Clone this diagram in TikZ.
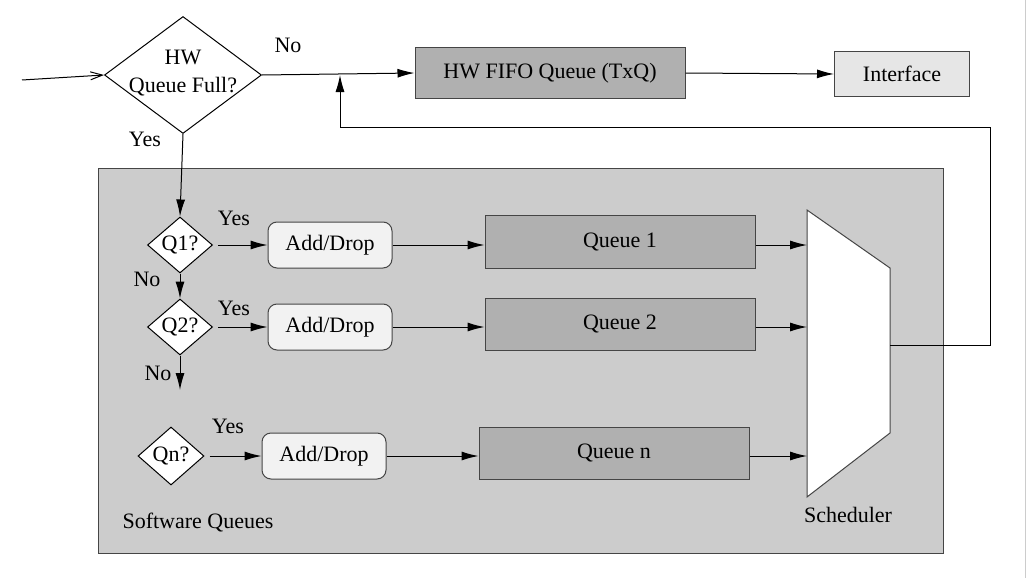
\documentclass[tikz,border=0pt]{standalone}
\usepackage{fontspec}
\setmainfont{Liberation Serif}
\newfontfamily\timesf{Liberation Serif}
\usetikzlibrary{shapes.geometric,arrows.meta}
\definecolor{bigbox}{HTML}{CCCCCC}
\definecolor{darkbox}{HTML}{B0B0B0}
\definecolor{ifbox}{HTML}{E6E6E6}
\definecolor{adbox}{HTML}{F2F2F2}
\definecolor{edge}{HTML}{454545}
\tikzset{
  every node/.style={font=\timesf\fontsize{22}{28}\selectfont},
  conn/.style={line width=1pt, draw=black},
  arr/.style={conn, -{Latex[length=17pt,width=9pt]}},
  qbox/.style={draw=edge, line width=1pt, fill=darkbox},
  adbox/.style={draw=edge, line width=1pt, fill=adbox, rounded corners=9pt},
  dia/.style={diamond, draw=black, line width=1pt, fill=white, inner sep=0pt},
  txt/.style={inner sep=0pt}
}
\begin{document}
\begin{tikzpicture}[x=1pt,y=-1pt]
\useasboundingbox (0,0) rectangle (1027,578);
\fill[white] (0,0) rectangle (1027,578);
\draw[gray!40, line width=1pt] (1025,0) -- (1025,578);
% big software queues box
\draw[draw=edge, line width=1pt, fill=bigbox] (98,168) rectangle (943,553);
% top row
\node[dia, minimum width=157pt, minimum height=117pt] (hw) at (183,75) {};
\node[align=center, txt] (hwt) at (183,73) {HW\\Queue Full?};
\coordinate (in) at (22,80);
\draw[conn, -{Straight Barb[length=12pt,width=8pt]}] (in) -- (hw.west);
\node[qbox, minimum width=270pt, minimum height=50pt] (fifo) at (550,73) {HW FIFO Queue (TxQ)};
\node[draw=edge, line width=1pt, fill=ifbox, minimum width=135pt, minimum height=45pt] (iface) at (902,74) {Interface};
\draw[arr] (hw.east) -- (fifo.west);
\draw[arr] (fifo.east) -- (iface.west);
\node[txt] (no0) at (288,45) {No};
\node[txt] (yes0) at (145,139) {Yes};
% decision diamonds
\node[dia, minimum width=65pt, minimum height=56pt] (q1) at (180,245) {};
\node[txt] (q1t) at (180,245) {Q1?};
\node[dia, minimum width=65pt, minimum height=56pt] (q2) at (180,327) {};
\node[txt] (q2t) at (180,327) {Q2?};
\node[dia, minimum width=66pt, minimum height=58pt] (qn) at (171,456) {};
\node[txt] (qnt) at (171,456) {Qn?};
\draw[arr] (hw.south) -- (q1.north);
\draw[arr] (q1.south) -- (q2.north);
\coordinate (q2down) at (180,390);
\draw[arr] (q2.south) -- (q2down);
\node[txt] (yes1) at (234,218) {Yes};
\node[txt] (no1) at (147,279) {No};
\node[txt] (yes2) at (234,308) {Yes};
\node[txt] (no2) at (158,373) {No};
\node[txt] (yesn) at (228,426) {Yes};
% add/drop boxes
\node[adbox, minimum width=124pt, minimum height=46pt] (ad1) at (330,245) {Add/Drop};
\node[adbox, minimum width=124pt, minimum height=46pt] (ad2) at (330,327) {Add/Drop};
\node[adbox, minimum width=124pt, minimum height=46pt] (adn) at (324,456) {Add/Drop};
\draw[arr] ([xshift=5pt]q1.east) -- (ad1.west);
\draw[arr] ([xshift=5pt]q2.east) -- (ad2.west);
\draw[arr] ([xshift=5pt]qn.east) -- (adn.west);
% queues
\node[qbox, minimum width=270pt, minimum height=53pt] (qu1) at (620,242) {\raisebox{4pt}{Queue 1}};
\node[qbox, minimum width=270pt, minimum height=52pt] (qu2) at (620,324) {\raisebox{4pt}{Queue 2}};
\node[qbox, minimum width=270pt, minimum height=52pt] (qun) at (614,453) {\raisebox{4pt}{Queue n}};
\draw[arr] (ad1.east) -- (ad1.east -| qu1.west);
\draw[arr] (ad2.east) -- (ad2.east -| qu2.west);
\draw[arr] (adn.east) -- (adn.east -| qun.west);
% scheduler
\coordinate (s1) at (807,210);
\coordinate (s2) at (890,268);
\coordinate (s3) at (890,433);
\coordinate (s4) at (807,497);
\draw[draw=edge, line width=1pt, fill=white] (s1) -- (s2) -- (s3) -- (s4) -- cycle;
\coordinate (si1) at (807,245);
\coordinate (si2) at (807,327);
\coordinate (sin) at (807,456);
\coordinate (sout) at (890,345);
\draw[arr] (qu1.east |- si1) -- (si1);
\draw[arr] (qu2.east |- si2) -- (si2);
\draw[arr] (qun.east |- sin) -- (sin);
\node[txt] (schl) at (848,515) {Scheduler};
\node[txt] (swl) at (198,523) {Software Queues};
% feedback
\coordinate (join) at (340,75);
\draw[arr] (sout) -- (990,345) -- (990,127) -- (340,127) -- (join);
\end{tikzpicture}
\end{document}
